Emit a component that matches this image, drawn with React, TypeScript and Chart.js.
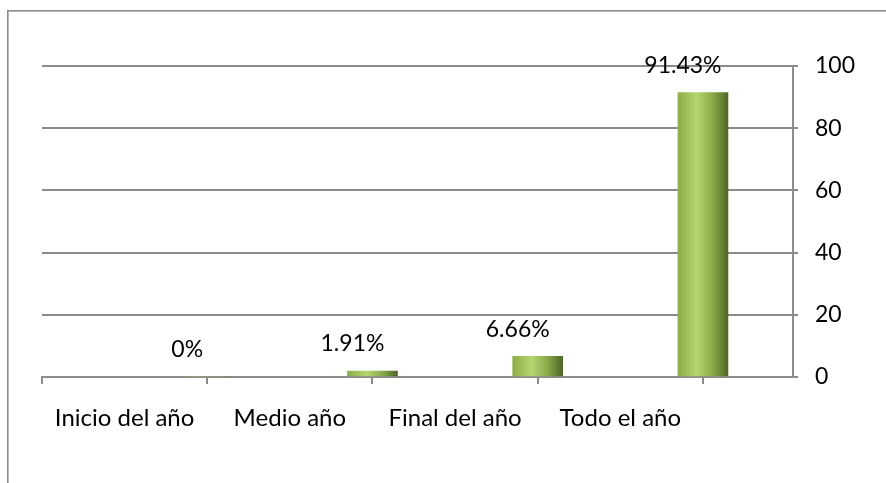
import React, { useEffect, useRef } from "react";
import { Chart, registerables } from "chart.js";

Chart.register(...registerables);

const categories = ["Inicio del año", "Medio año", "Final del año", "Todo el año"];
const values = [0, 1.91, 6.66, 91.43];
const yTicks = [0, 20, 40, 60, 80, 100];

const FONT = "Lato, 'Open Sans', 'DejaVu Sans', sans-serif";

export default function App() {
  const ref = useRef<HTMLCanvasElement | null>(null);

  useEffect(() => {
    if (!ref.current) return;

    const borderPlugin = {
      id: "outerBorder",
      beforeDraw(chart: any) {
        const ctx = chart.ctx;
        ctx.save();
        ctx.fillStyle = "#ffffff";
        ctx.fillRect(0, 0, chart.width, chart.height);
        ctx.strokeStyle = "#8a8a8a";
        ctx.lineWidth = 1.6;
        ctx.strokeRect(7.8, 10.8, 1200, 1200);
        ctx.restore();
      },
    };

    const labelPlugin = {
      id: "barValueLabels",
      afterDatasetsDraw(chart: any) {
        const ctx = chart.ctx;
        const meta = chart.getDatasetMeta(0);
        ctx.save();
        ctx.font = `23px ${FONT}`;
        ctx.fillStyle = "#000000";
        ctx.textAlign = "center";
        ctx.textBaseline = "middle";
        meta.data.forEach((el: any, i: number) => {
          ctx.fillText(`${values[i]}%`, el.x - 20, el.y - 27);
        });
        ctx.restore();
      },
    };

    const chart = new Chart(ref.current, {
      type: "bar",
      data: {
        datasets: [
          {
            data: values.map((v, i) => ({ x: i + 1, y: v })),
            barThickness: 50,
            borderWidth: 0,
            backgroundColor: (c: any) => {
              const ch = c.chart;
              const xs = ch.scales && ch.scales.x;
              if (!xs || c.type !== "data") return "#9bbb59";
              const cx = xs.getPixelForValue(c.dataIndex + 1);
              if (!Number.isFinite(cx)) return "#9bbb59";
              const g = ch.ctx.createLinearGradient(cx - 25, 0, cx + 25, 0);
              g.addColorStop(0, "#8cad48");
              g.addColorStop(0.38, "#b5d56f");
              g.addColorStop(0.7, "#8aa949");
              g.addColorStop(1, "#4e6726");
              return g;
            },
          },
        ],
      },
      options: {
        responsive: false,
        animation: false,
        layout: { padding: { left: 42, top: 66, right: 0, bottom: 0 } },
        plugins: {
          legend: { display: false },
          tooltip: { enabled: false },
        },
        scales: {
          x: {
            type: "linear",
            offset: false,
            min: 0,
            max: 4.545,
            afterBuildTicks: (scale: any) => {
              const t: any[] = [];
              for (let i = 0; i <= categories.length; i++) {
                t.push({ value: i });
                if (i < categories.length) t.push({ value: i + 0.5 });
              }
              scale.ticks = t;
            },
            afterFit: (scale: any) => {
              scale.height = 106;
            },
            ticks: {
              autoSkip: false,
              maxRotation: 0,
              minRotation: 0,
              padding: 20,
              color: "#000000",
              font: { family: FONT, size: 24 },
              callback: (v: any) =>
                Number.isInteger(v) ? "" : categories[Math.floor(v)],
            },
            grid: {
              offset: false,
              drawOnChartArea: false,
              drawTicks: true,
              tickLength: 7,
              lineWidth: 2,
              color: (c: any) =>
                c.tick && Number.isInteger(c.tick.value)
                  ? "#8c8c8c"
                  : "rgba(0,0,0,0)",
            },
            border: { display: true, color: "#8c8c8c", width: 2 },
          },
          y: {
            position: "right",
            min: 0,
            max: 100,
            afterBuildTicks: (scale: any) => {
              scale.ticks = yTicks.map((v) => ({ value: v }));
            },
            afterFit: (scale: any) => {
              scale.width = 93;
            },
            ticks: {
              padding: 17,
              color: "#000000",
              font: { family: FONT, size: 23 },
            },
            grid: {
              color: "#8a8a8a",
              lineWidth: 2,
              tickLength: 5,
            },
            border: { display: true, color: "#8c8c8c", width: 2 },
          },
        },
      },
      plugins: [borderPlugin, labelPlugin],
    } as any);

    return () => chart.destroy();
  }, []);

  return (
    <div style={{ position: "absolute", left: 0, top: 0, width: 886, height: 483 }}>
      <canvas ref={ref} width={886} height={483} style={{ display: "block" }} />
    </div>
  );
}
